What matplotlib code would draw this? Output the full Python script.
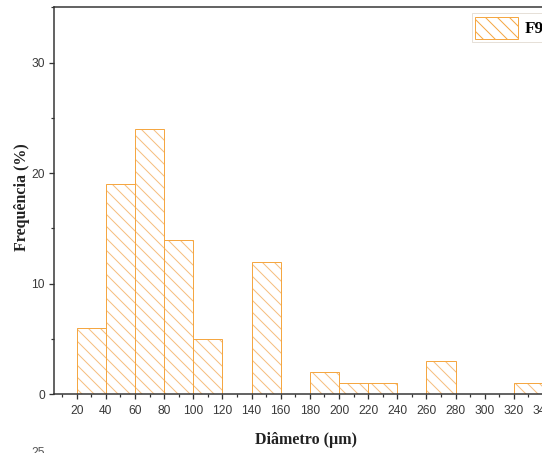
import matplotlib.pyplot as plt
from matplotlib.ticker import MultipleLocator

# Dados do histograma (limite inferior de cada classe, largura 20 um)
classes = [20, 40, 60, 80, 100, 140, 180, 200, 220, 260, 320]
frequencia = [6, 19, 24, 14, 5, 12, 2, 1, 1, 3, 1]
largura = 20
rotulo = "F9"

cor = '#F5A742'
cor_hachura = '#F6BE7E'

plt.rcParams['hatch.linewidth'] = 1.0

fig = plt.figure(figsize=(542 / 72, 453 / 72), dpi=72)
ax = fig.add_axes([54 / 542, 1 - 394.3 / 453, 547.3 / 542, 387 / 453])

# hachura (cor mais clara) e depois o contorno das barras
ax.bar(classes, frequencia, width=largura, align='edge', color='white',
       edgecolor=cor_hachura, hatch='\\\\', linewidth=0)
ax.bar(classes, frequencia, width=largura, align='edge', fill=False,
       edgecolor=cor, linewidth=1.0)

ax.set_xlim(4.4, 380)
ax.set_ylim(0, 35)

ax.xaxis.set_major_locator(MultipleLocator(20))
ax.xaxis.set_minor_locator(MultipleLocator(10))
ax.yaxis.set_major_locator(MultipleLocator(10))
ax.yaxis.set_minor_locator(MultipleLocator(5))
ax.set_xticks(range(20, 381, 20))

for s in ['top', 'left', 'bottom']:
    ax.spines[s].set_color('#333333')
    ax.spines[s].set_linewidth(1.5)
ax.spines['right'].set_visible(False)

ax.tick_params(which='major', direction='out', length=5, width=1.3,
               color='#333333', labelsize=12, labelcolor='#3a3a3a', pad=6)
ax.tick_params(axis='y', which='major', pad=4)
ax.tick_params(which='minor', direction='out', length=3, width=1.2,
               color='#333333')
for lab in ax.get_xticklabels() + ax.get_yticklabels():
    lab.set_fontfamily('Liberation Sans')

# Rótulos dos eixos
fig.text(22 / 542, 1 - 197 / 453, "Frequência (%)", rotation=90,
         ha='center', va='center', fontsize=16, fontweight='bold',
         family='Liberation Serif', color='#222222')
fig.text(306 / 542, 1 - 440 / 453, "Diâmetro (µm)", ha='center',
         va='center', fontsize=16, fontweight='bold',
         family='Liberation Serif', color='#222222')

# pedaço do próximo painel, cortado na borda
fig.text(38 / 542, 1 - 447 / 453, "25", ha='center', va='top',
         fontsize=12, family='Liberation Sans', color='#555555')

# legenda com a mesma aparência das barras
from matplotlib.patches import Patch
handle = Patch(facecolor='white', edgecolor=cor, hatch='\\\\', linewidth=1.0,
               label=rotulo)
leg = ax.legend(handles=[handle], loc='upper left',
                bbox_to_anchor=(472 / 542, 1 - 13.3 / 453),
                bbox_transform=fig.transFigure, borderaxespad=0,
                borderpad=0.2, handlelength=2.5, handleheight=1.6,
                handletextpad=0.4, fancybox=False,
                prop={'family': 'Liberation Serif', 'weight': 'bold',
                      'size': 17})
leg.get_frame().set_edgecolor('#D9CFC2')
leg.get_frame().set_linewidth(0.8)

fig.savefig("out.png", dpi=72)
plt.close(fig)
